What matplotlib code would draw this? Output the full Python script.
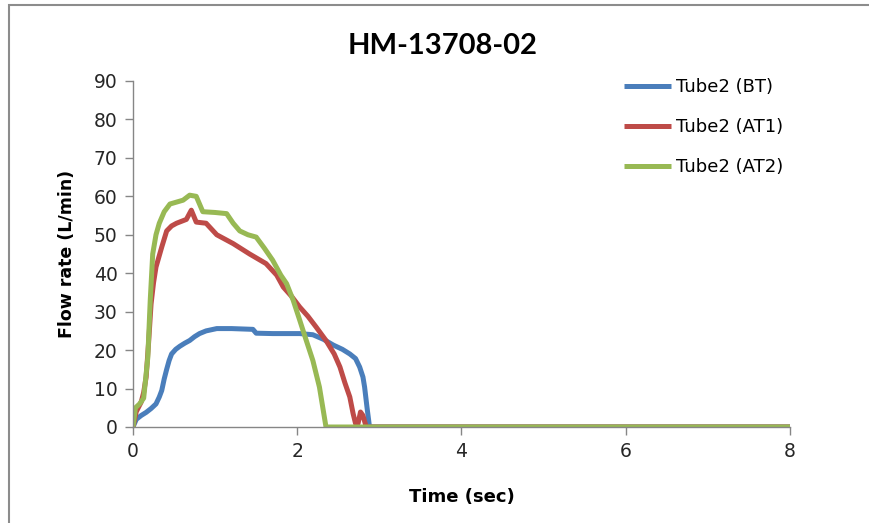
import matplotlib
matplotlib.use('Agg')
import matplotlib.pyplot as plt
from matplotlib.patches import Rectangle

plt.rcParams['font.family'] = ['DejaVu Sans']

# Tube2 (BT)
t_bt = [0, 0.04, 0.10, 0.16, 0.22, 0.28, 0.32, 0.35, 0.38, 0.41, 0.44, 0.47, 0.52, 0.57,
        0.63, 0.69, 0.75, 0.81, 0.89, 1.02, 1.20, 1.46, 1.50, 1.70, 2.03, 2.19, 2.32,
        2.44, 2.55, 2.64, 2.71, 2.76, 2.80, 2.82, 2.85, 2.88, 8.0]
v_bt = [0, 2.0, 3.0, 3.8, 4.8, 6.0, 7.8, 9.5, 12.5, 15.0, 17.3, 19.0, 20.2, 21.0,
        21.8, 22.5, 23.5, 24.3, 25.0, 25.6, 25.6, 25.4, 24.4, 24.3, 24.3, 24.0, 22.8,
        21.3, 20.2, 19.0, 17.8, 15.6, 13.0, 10.4, 5.0, 0, 0]

# Tube2 (AT1)
t_at1 = [0, 0.04, 0.10, 0.13, 0.16, 0.19, 0.22, 0.25, 0.28, 0.35, 0.41, 0.47, 0.53, 0.65,
         0.71, 0.77, 0.89, 1.02, 1.22, 1.42, 1.62, 1.75, 1.83, 1.93, 2.03, 2.13, 2.23,
         2.35, 2.45, 2.52, 2.58, 2.64, 2.68, 2.71, 2.74, 2.77, 2.80, 2.84, 8.0]
v_at1 = [0, 4.0, 6.5, 9.0, 13.0, 22.0, 32.0, 37.5, 41.6, 46.8, 51.0, 52.3, 53.0, 54.0,
         56.4, 53.3, 53.0, 50.0, 47.7, 45.0, 42.5, 39.5, 36.4, 34.0, 31.2, 28.8, 26.0,
         22.5, 19.0, 15.6, 11.5, 7.8, 3.5, 0.9, 0.9, 3.9, 3.0, 0, 0]

# Tube2 (AT2)
t_at2 = [0, 0.03, 0.08, 0.13, 0.18, 0.21, 0.24, 0.28, 0.32, 0.38, 0.45, 0.53, 0.61,
         0.69, 0.77, 0.85, 1.00, 1.14, 1.22, 1.30, 1.40, 1.50, 1.60, 1.70, 1.80, 1.87,
         1.95, 2.03, 2.11, 2.19, 2.27, 2.35, 8.0]
v_at2 = [0, 5.0, 6.0, 7.5, 18.0, 33.0, 45.0, 50.0, 53.0, 56.0, 58.0, 58.5, 59.0,
         60.3, 60.0, 56.0, 55.8, 55.5, 53.0, 51.0, 50.0, 49.4, 46.5, 43.4, 39.5, 37.3,
         33.0, 27.8, 22.5, 17.3, 10.4, 0, 0]

series = [
    ('Tube2 (BT)', t_bt, v_bt, '#4A7EBB'),
    ('Tube2 (AT1)', t_at1, v_at1, '#BE4B48'),
    ('Tube2 (AT2)', t_at2, v_at2, '#98B954'),
]

fig = plt.figure(figsize=(8.7, 5.23), dpi=100)
ax = fig.add_axes([133 / 870, 1 - 427 / 523, (790 - 133) / 870, (427 - 81) / 523])

# outer chart border
fig.patches.append(Rectangle((9 / 870, -0.1), 1.2, 1 - 5 / 523 + 0.1,
                             transform=fig.transFigure, fill=False,
                             edgecolor='#8c8c8c', linewidth=1.5))

for name, t, v, c in series:
    ax.plot(t, v, color=c, linewidth=3.6, label=name, solid_capstyle='butt')

ax.set_xlim(0, 8)
ax.set_ylim(0, 90)
ax.set_xticks([0, 2, 4, 6, 8])
ax.set_yticks(range(0, 91, 10))

for s in ['top', 'right']:
    ax.spines[s].set_visible(False)
for s in ['left', 'bottom']:
    ax.spines[s].set_color('#868686')
    ax.spines[s].set_linewidth(1.0)
ax.tick_params(axis='both', colors='#868686', length=6, width=1.0,
               labelsize=13.5, labelcolor='#262626', pad=5)

ax.set_xlabel('Time (sec)', fontsize=13, fontweight='bold', labelpad=19)
ax.set_ylabel('Flow rate (L/min)', fontsize=12.5, fontweight='bold', labelpad=13)
fig.text(443 / 870, 1 - 46 / 523, 'HM-13708-02', fontsize=21, fontweight='bold',
         family=['Lato', 'DejaVu Sans'], ha='center', va='center')

fig.legend(loc='upper left', bbox_to_anchor=(608 / 870, 1 - 62 / 523),
           frameon=False, fontsize=13, handlelength=2.6, handletextpad=0.25,
           labelspacing=1.22)

fig.savefig('out.png', dpi=100)
